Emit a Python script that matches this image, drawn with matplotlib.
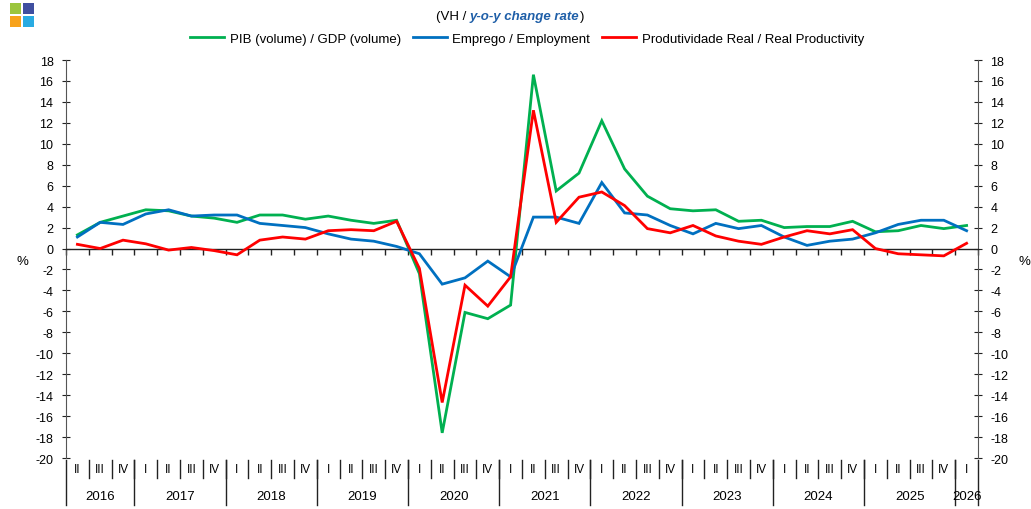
import matplotlib
matplotlib.use("Agg")
import matplotlib.pyplot as plt
from matplotlib.offsetbox import TextArea, HPacker, AnnotationBbox
from matplotlib.patches import Rectangle

plt.rcParams['font.family'] = ['Liberation Sans', 'DejaVu Sans']
plt.rcParams['axes.unicode_minus'] = False

# ---- data ----
quarters = ["II", "III", "IV"] + ["I", "II", "III", "IV"] * 9 + ["I"]
years = ["2016", "2017", "2018", "2019", "2020", "2021", "2022", "2023", "2024", "2025", "2026"]
year_counts = [3, 4, 4, 4, 4, 4, 4, 4, 4, 4, 1]

gdp = [1.3, 2.5, 3.1, 3.7, 3.6, 3.1, 2.9, 2.5,
       3.2, 3.2, 2.8, 3.1, 2.7, 2.4, 2.7,
       -2.4, -17.6, -6.1, -6.7, -5.4,
       16.6, 5.5, 7.2, 12.2, 7.6, 5.0, 3.8, 3.6,
       3.7, 2.6, 2.7, 2.0, 2.1, 2.1, 2.6, 1.6,
       1.7, 2.2, 1.9, 2.2]
employment = [1.1, 2.5, 2.3, 3.3, 3.7, 3.1, 3.2, 3.2,
              2.4, 2.2, 2.0, 1.4, 0.9, 0.7, 0.2,
              -0.5, -3.4, -2.8, -1.2, -2.7,
              3.0, 3.0, 2.4, 6.3, 3.4, 3.2, 2.2, 1.4,
              2.4, 1.9, 2.2, 1.1, 0.3, 0.7, 0.9, 1.5,
              2.3, 2.7, 2.7, 1.7]
productivity = [0.4, 0.0, 0.8, 0.45, -0.15, 0.1, -0.2, -0.6,
                0.8, 1.1, 0.9, 1.7, 1.8, 1.7, 2.6,
                -1.9, -14.7, -3.5, -5.5, -2.7,
                13.2, 2.5, 4.9, 5.4, 4.1, 1.9, 1.5, 2.2,
                1.2, 0.7, 0.4, 1.1, 1.7, 1.4, 1.8, 0.0,
                -0.5, -0.6, -0.7, 0.5]

labels = ["PIB (volume) / GDP (volume)", "Emprego / Employment",
          "Produtividade Real / Real Productivity"]
colors = ["#00B050", "#0070C0", "#FF0000"]
yticks = list(range(-20, 19, 2))

W, H = 1031, 510
fig = plt.figure(figsize=(W / 100, H / 100), dpi=100)

left_px, right_px, top_px, bot_px = 66, 978, 61, 459
ax = fig.add_axes([left_px / W, 1 - bot_px / H, (right_px - left_px) / W, (bot_px - top_px) / H])

n = len(quarters)
xs = [i + 0.5 for i in range(n)]
lines = []
for series, c, lab in zip([gdp, employment, productivity], colors, labels):
    ln, = ax.plot(xs, series, color=c, lw=2.0, label=lab, solid_joinstyle='miter', zorder=3)
    lines.append(ln)

ax.set_xlim(0, n)
ax.set_ylim(-20, 18)
ax.set_yticks(yticks)
ax.tick_params(axis='y', which='both', direction='inout', length=6, width=0.8,
               labelsize=9, left=True, right=True, labelleft=True, labelright=True, pad=6,
               colors='#222222')
for lbl in ax.get_yticklabels():
    lbl.set_color('black')

# bottom spine as zero line with boundary ticks
ax.spines['top'].set_visible(False)
ax.spines['bottom'].set_position(('data', 0))
ax.spines['bottom'].set_linewidth(1.0)
ax.spines['bottom'].set_color('#222222')
ax.spines['left'].set_color('#555555')
ax.spines['right'].set_color('#555555')
ax.set_xticks(range(n + 1))
ax.tick_params(axis='x', direction='out', length=4, width=1.0, labelbottom=False, colors='#222222')

# category labels below the axes
tr = ax.get_xaxis_transform()
q_y = -0.028
y_y = -0.095
for i, q in enumerate(quarters):
    ax.text(i + 0.5, q_y, q, transform=tr, ha='center', va='center', fontsize=8.5, clip_on=False)
# quarter separators
for i in range(1, n):
    ax.plot([i, i], [-0.005, -0.05], transform=tr, color='#222222', lw=1.0, clip_on=False)
# year separators and labels
pos = 0
bounds = [0]
for cnt in year_counts:
    pos += cnt
    bounds.append(pos)
for b in bounds:
    ax.plot([b, b], [-0.005, -0.118], transform=tr, color='#222222', lw=1.0, clip_on=False)
for k, yr in enumerate(years):
    mid = (bounds[k] + bounds[k + 1]) / 2
    ax.text(mid, y_y, yr, transform=tr, ha='center', va='center', fontsize=9.5, clip_on=False)

# % labels
fig.text(22 / W, 1 - 262 / H, "%", ha='center', va='center', fontsize=9.5)
fig.text(1024 / W, 1 - 262 / H, "%", ha='center', va='center', fontsize=9.5)

# title
t1 = TextArea("(VH / ", textprops=dict(fontsize=9.5, color='black'))
t2 = TextArea("y-o-y change rate", textprops=dict(fontsize=9.5, color='#1F5FA8',
                                                    fontweight='bold', fontstyle='italic'))
t3 = TextArea(")", textprops=dict(fontsize=9.5, color='black'))
hp = HPacker(children=[t1, t2, t3], align='baseline', pad=0, sep=0)
ab = AnnotationBbox(hp, (510 / W, 1 - 17 / H), xycoords='figure fraction', frameon=False,
                    box_alignment=(0.5, 0.5))
fig.add_artist(ab)

# legend
fig.legend(handles=lines, labels=labels, loc='center', bbox_to_anchor=(527 / W, 1 - 40 / H),
           ncol=3, frameon=False, fontsize=9.5, handlelength=2.6, handletextpad=0.4,
           columnspacing=0.9, borderaxespad=0)

# logo squares
sq = 11
for (x0, y0, c) in [(10, 4, '#9BC53D'), (23, 4, '#3F4FA0'), (10, 17, '#F7A21B'), (23, 17, '#29ABE2')]:
    fig.add_artist(Rectangle((x0 / W, 1 - (y0 + sq) / H), sq / W, sq / H,
                             transform=fig.transFigure, color=c, lw=0))

fig.savefig("out.png", dpi=100)
